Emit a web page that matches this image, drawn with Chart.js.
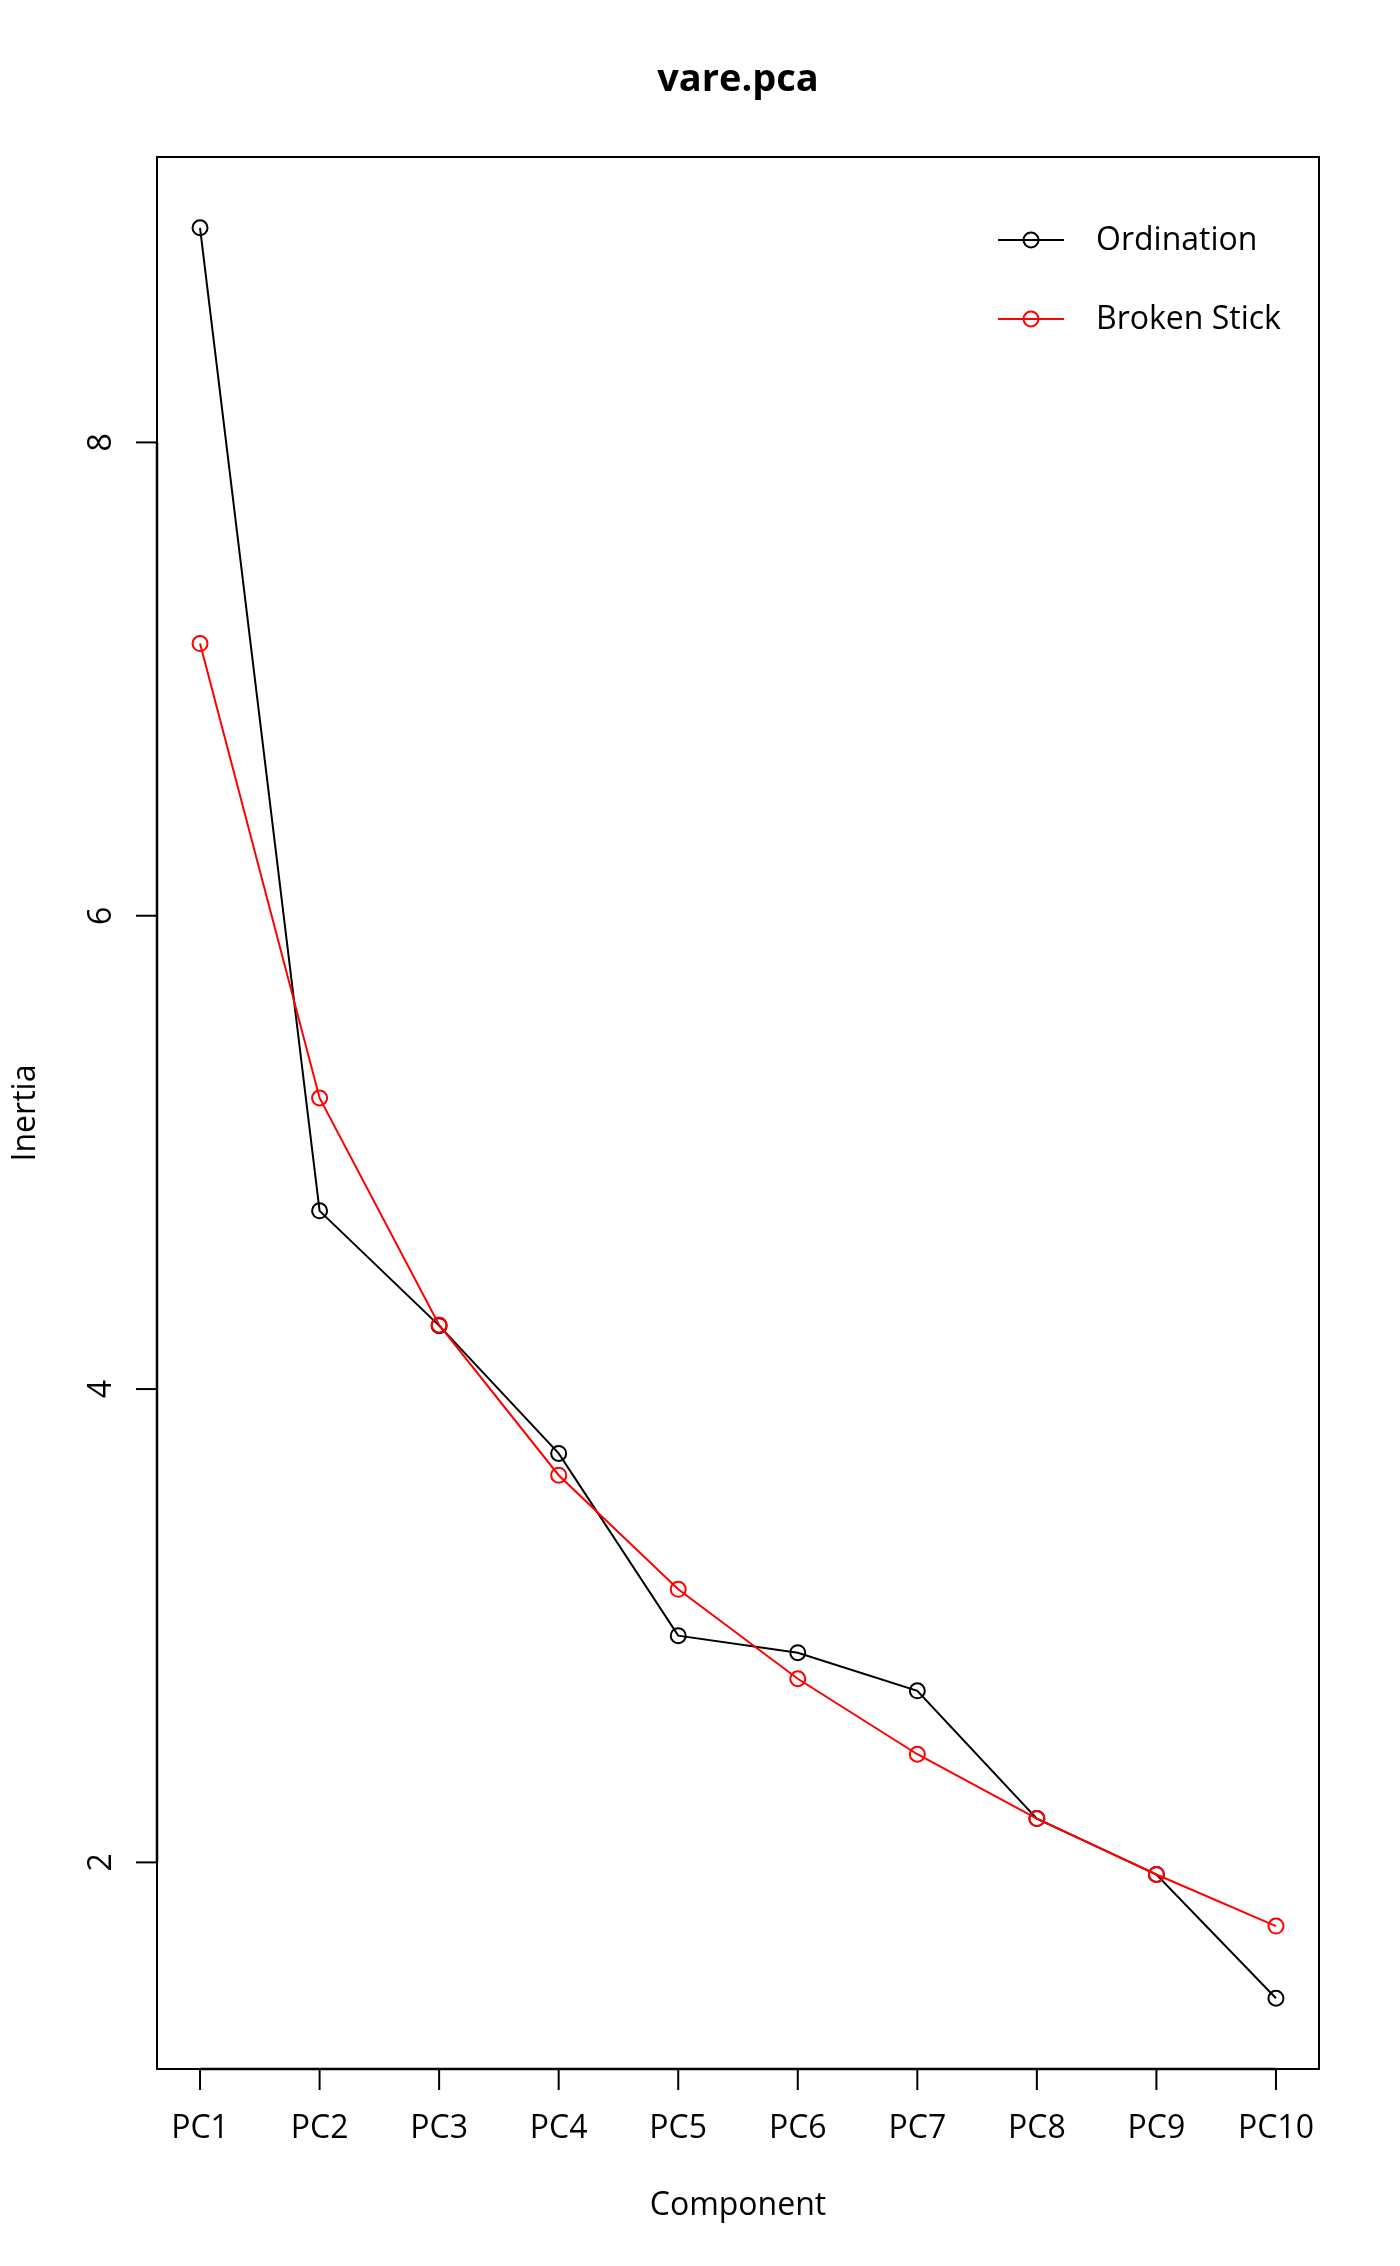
<!DOCTYPE html>
<html>
<head>
<meta charset="utf-8">
<script src="https://cdn.jsdelivr.net/npm/chart.js@4.4.0/dist/chart.umd.min.js"></script>
<style>
  html, body { margin: 0; padding: 0; background: #fff; }
  #wrap { width: 1400px; height: 2266px; }
</style>
</head>
<body>
<div id="wrap"><canvas id="myChart" width="1400" height="2266"></canvas></div>
<script>
const components = ['PC1', 'PC2', 'PC3', 'PC4', 'PC5', 'PC6', 'PC7', 'PC8', 'PC9', 'PC10']
const ordination = [8.907, 4.753, 4.268, 3.728, 2.958, 2.886, 2.725, 2.185, 1.949, 1.426]
const brokenStick = [7.15, 5.23, 4.271, 3.636, 3.154, 2.776, 2.457, 2.185, 1.949, 1.731]
const yTicks = [2, 4, 6, 8]

const mainTitle = 'vare.pca'
const xTitle = 'Component'
const yTitle = 'Inertia'
const legendNames = ['Ordination', 'Broken Stick']

const FONT = '"Open Sans", "Noto Sans", "DejaVu Sans", sans-serif'

function toPoints(values) {
   return values.map((v, i) => ({ x: i + 1, y: v }))
}

// R style frame, axes, titles and legend
const rFrame = {
   id: 'rFrame',
   afterDraw(chart) {
      const ctx = chart.ctx
      const area = chart.chartArea
      const xs = chart.scales.x
      const ys = chart.scales.y
      ctx.save()
      ctx.strokeStyle = '#000'
      ctx.fillStyle = '#000'

      // box
      ctx.lineWidth = 2
      ctx.strokeRect(area.left, area.top, area.right - area.left, area.bottom - area.top)

      // x axis
      const x1 = xs.getPixelForValue(1)
      const x10 = xs.getPixelForValue(components.length)
      ctx.lineWidth = 2.5
      ctx.beginPath()
      ctx.moveTo(x1, area.bottom)
      ctx.lineTo(x10, area.bottom)
      ctx.stroke()
      ctx.lineWidth = 2
      ctx.font = '32px ' + FONT
      ctx.textAlign = 'center'
      ctx.textBaseline = 'alphabetic'
      components.forEach((label, i) => {
         const px = xs.getPixelForValue(i + 1)
         ctx.beginPath()
         ctx.moveTo(px, area.bottom)
         ctx.lineTo(px, area.bottom + 21)
         ctx.stroke()
         ctx.fillText(label, px, 2138)
      })

      // y axis
      const yLo = ys.getPixelForValue(yTicks[0])
      const yHi = ys.getPixelForValue(yTicks[yTicks.length - 1])
      ctx.lineWidth = 2.5
      ctx.beginPath()
      ctx.moveTo(area.left, yLo)
      ctx.lineTo(area.left, yHi)
      ctx.stroke()
      ctx.lineWidth = 2
      yTicks.forEach(t => {
         const py = ys.getPixelForValue(t)
         ctx.beginPath()
         ctx.moveTo(area.left, py)
         ctx.lineTo(area.left - 21, py)
         ctx.stroke()
         ctx.save()
         ctx.translate(111, py)
         ctx.rotate(-Math.PI / 2)
         ctx.fillText(String(t), 0, 0)
         ctx.restore()
      })

      // titles
      ctx.font = 'bold 38px ' + FONT
      ctx.fillText(mainTitle, (area.left + area.right) / 2, 91)
      ctx.font = '32px ' + FONT
      ctx.fillText(xTitle, (area.left + area.right) / 2, 2215)
      ctx.save()
      ctx.translate(35, (area.top + area.bottom) / 2)
      ctx.rotate(-Math.PI / 2)
      ctx.fillText(yTitle, 0, 0)
      ctx.restore()

      // legend
      const colors = ['#000000', '#ff0000']
      const rows = [240, 319]
      ctx.textAlign = 'left'
      ctx.textBaseline = 'middle'
      legendNames.forEach((name, i) => {
         ctx.strokeStyle = colors[i]
         ctx.lineWidth = 2
         ctx.beginPath()
         ctx.moveTo(998, rows[i])
         ctx.lineTo(1064, rows[i])
         ctx.stroke()
         ctx.beginPath()
         ctx.arc(1031, rows[i], 7.5, 0, Math.PI * 2)
         ctx.stroke()
         ctx.fillStyle = '#000'
         ctx.fillText(name, 1096, rows[i] + 1)
      })
      ctx.restore()
   }
}

const ctx = document.getElementById('myChart')

const myChart = new Chart(ctx, {
   type: 'line',
   data: {
      datasets: [{
         label: legendNames[0],
         data: toPoints(ordination),
         borderColor: '#000000',
         pointBorderColor: '#000000',
         backgroundColor: 'rgba(0,0,0,0)',
         pointBackgroundColor: 'rgba(0,0,0,0)',
         borderWidth: 2,
         pointBorderWidth: 2,
         pointRadius: 7.5,
         tension: 0,
         order: 1
      }, {
         label: legendNames[1],
         data: toPoints(brokenStick),
         borderColor: '#ff0000',
         pointBorderColor: '#ff0000',
         backgroundColor: 'rgba(0,0,0,0)',
         pointBackgroundColor: 'rgba(0,0,0,0)',
         borderWidth: 2,
         pointBorderWidth: 2,
         pointRadius: 7.5,
         tension: 0,
         order: 0
      }]
   },
   options: {
      responsive: false,
      animation: false,
      devicePixelRatio: 1,
      layout: {
         padding: { left: 157, top: 157, right: 81, bottom: 197 }
      },
      plugins: {
         legend: { display: false },
         title: { display: false },
         tooltip: { enabled: false }
      },
      scales: {
         x: { type: 'linear', min: 0.64, max: 10.36, display: false },
         y: { type: 'linear', min: 1.127, max: 9.206, display: false }
      },
      elements: { line: { fill: false } }
   },
   plugins: [rFrame]
})
</script>
</body>
</html>
